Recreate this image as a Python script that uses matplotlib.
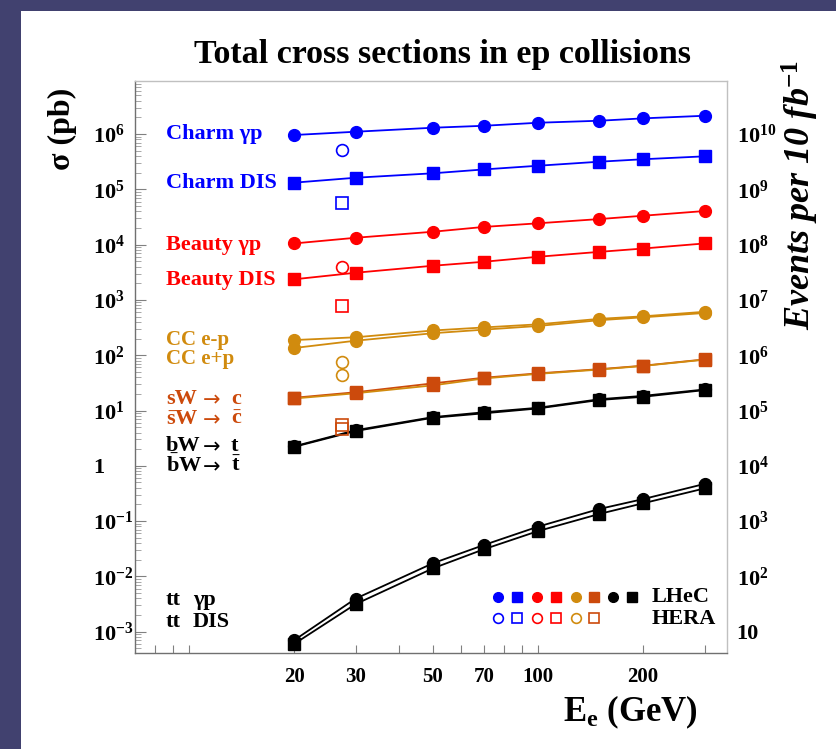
import numpy as np
import matplotlib
matplotlib.use("Agg")
import matplotlib.pyplot as plt
from matplotlib.patches import Rectangle
from matplotlib.ticker import FixedLocator, NullFormatter, LogLocator

plt.rcParams['font.family'] = ['Liberation Serif', 'DejaVu Serif']
plt.rcParams['font.weight'] = 'bold'
plt.rcParams['mathtext.fontset'] = 'custom'
plt.rcParams['mathtext.rm'] = 'Liberation Serif:bold'
plt.rcParams['mathtext.bf'] = 'Liberation Serif:bold'
plt.rcParams['mathtext.it'] = 'Liberation Serif:italic:bold'

# --- electron beam energies (GeV) ---
E = [20, 30, 50, 70, 100, 150, 200, 300]
E_hera = 27.5

# --- LHeC cross sections (pb) ---
charm_gp = [9.6e5, 1.1e6, 1.3e6, 1.41e6, 1.6e6, 1.74e6, 1.92e6, 2.14e6]
charm_dis = [1.32e5, 1.62e5, 1.95e5, 2.29e5, 2.67e5, 3.16e5, 3.5e5, 3.95e5]
beauty_gp = [1.05e4, 1.33e4, 1.71e4, 2.09e4, 2.43e4, 2.9e4, 3.33e4, 4.05e4]
beauty_dis = [2.36e3, 3.1e3, 4.15e3, 4.9e3, 6.03e3, 7.4e3, 8.5e3, 1.05e4]
cc_em = [188, 211, 280, 318, 362, 455, 505, 610]
cc_ep = [135, 183, 250, 290, 338, 430, 485, 580]
sw_c = [17, 21.4, 31, 39.2, 47, 56, 64.6, 84]
sbarw_cbar = [16.5, 20.5, 28.5, 38, 46, 55, 64, 83]
bw_t = [2.2, 4.26, 7.4, 8.9, 10.9, 15.5, 17.7, 23.4]
bbarw_tbar = [2.25, 4.4, 7.6, 9.3, 11.2, 16.0, 18.4, 24.0]
tt_gp = [7.0e-4, 3.96e-3, 0.0173, 0.037, 0.0794, 0.166, 0.25, 0.47]
tt_dis = [6.0e-4, 3.15e-3, 0.014, 0.031, 0.066, 0.135, 0.21, 0.39]

# --- HERA points (pb) ---
hera_charm_gp = 5.1e5
hera_charm_dis = 5.7e4
hera_beauty_gp = 4.0e3
hera_beauty_dis = 790
hera_cc = [74.5, 44]
hera_sw = [5.5, 4.6]

x_ticks = [20, 30, 50, 70, 100, 200]
x_minor = [8, 9, 10, 40, 60, 80, 90, 300]
left_ticks = [1e6, 1e5, 1e4, 1e3, 1e2, 1e1, 1, 1e-1, 1e-2, 1e-3]
left_labels = [r'$10^{6}$', r'$10^{5}$', r'$10^{4}$', r'$10^{3}$', r'$10^{2}$',
               r'$10^{1}$', '1', r'$10^{-1}$', r'$10^{-2}$', r'$10^{-3}$']
right_ticks = [1e10, 1e9, 1e8, 1e7, 1e6, 1e5, 1e4, 1e3, 1e2, 1e1]
right_labels = [r'$10^{10}$', r'$10^{9}$', r'$10^{8}$', r'$10^{7}$', r'$10^{6}$',
                r'$10^{5}$', r'$10^{4}$', r'$10^{3}$', r'$10^{2}$', '10']
lumi_factor = 1e4  # 10 fb^-1 = 1e4 pb^-1

BLUE = '#0000ff'
RED = '#ff0000'
GOLD = '#d18b0e'
ORANGE = '#cc4a0c'
BLACK = '#000000'

W, H = 836, 749
fig = plt.figure(figsize=(W / 100, H / 100), dpi=100, facecolor='#41416f')
fig.patches.append(Rectangle((21 / W, 0), 1, 1 - 11 / H, transform=fig.transFigure,
                             facecolor='white', edgecolor='none', zorder=-5))

x0, x1, y0, y1 = 135, 727, 81, 653
ax = fig.add_axes([x0 / W, 1 - y1 / H, (x1 - x0) / W, (y1 - y0) / H])
ax.set_zorder(2)
ax.patch.set_alpha(0)
ax.set_xscale('log')
ax.set_yscale('log')
ax.set_xlim(7.0, 348)
ylim = (4.12e-4, 9.1e6)
ax.set_ylim(*ylim)


def series(y, color, marker, lc=None):
    ax.plot(E, y, color=lc or color, lw=1.3, marker=marker, ms=8.5,
            mfc=color, mec=color, zorder=3)


def hera(y, color, marker):
    ax.plot([E_hera] * np.size(y), y, ls='none', marker=marker, ms=8.5,
            mfc='none', mec=color, mew=1.2, zorder=3)


series(charm_gp, BLUE, 'o')
series(charm_dis, BLUE, 's')
series(beauty_gp, RED, 'o')
series(beauty_dis, RED, 's')
series(cc_em, GOLD, 'o')
series(cc_ep, GOLD, 'o')
series(sw_c, ORANGE, 's')
series(sbarw_cbar, ORANGE, 's', lc=GOLD)
series(bw_t, BLACK, 's')
series(bbarw_tbar, BLACK, 'o')
series(tt_gp, BLACK, 'o')
series(tt_dis, BLACK, 's')

hera(hera_charm_gp, BLUE, 'o')
hera(hera_charm_dis, BLUE, 's')
hera(hera_beauty_gp, RED, 'o')
hera(hera_beauty_dis, RED, 's')
hera(hera_cc, GOLD, 'o')
hera(hera_sw, ORANGE, 's')

# axes styling
for s in ['top', 'right']:
    ax.spines[s].set_color('#c0c0c0')
for s in ['left', 'bottom']:
    ax.spines[s].set_color('#707070')
for s in ax.spines.values():
    s.set_linewidth(1.0)

ax.xaxis.set_major_locator(FixedLocator(x_ticks))
ax.xaxis.set_minor_locator(FixedLocator(x_minor))
ax.xaxis.set_minor_formatter(NullFormatter())
ax.set_xticklabels([str(v) for v in x_ticks])
ax.tick_params(axis='x', which='both', direction='in', length=6, width=0.8,
               colors='#808080', labelcolor='black', labelsize=15, pad=10,
               top=False)

ax.yaxis.set_major_locator(FixedLocator(left_ticks))
ax.yaxis.set_minor_locator(LogLocator(base=10, subs=np.arange(2, 10), numticks=30))
ax.yaxis.set_minor_formatter(NullFormatter())
ax.set_yticklabels(left_labels)
ax.tick_params(axis='y', which='major', direction='in', length=8, width=0.8,
               colors='#808080', labelcolor='black', labelsize=16, pad=30)
ax.tick_params(axis='y', which='minor', direction='in', length=4, width=0.6,
               colors='#999999')
for lab in ax.get_yticklabels():
    lab.set_horizontalalignment('left')

ax2 = ax.twinx()
ax2.set_zorder(1)
ax2.set_yscale('log')
ax2.set_ylim(ylim[0] * lumi_factor, ylim[1] * lumi_factor)
ax2.yaxis.set_major_locator(FixedLocator(right_ticks))
ax2.yaxis.set_minor_locator(FixedLocator([]))
ax2.set_yticklabels(right_labels)
ax2.tick_params(axis='y', length=0, labelsize=16, pad=7)
for s in ax2.spines.values():
    s.set_visible(False)


# in-plot labels (pixel positions converted to axes fraction)
def label(text, xpx, ypx, color, size=16, **kw):
    ax.text((xpx - x0) / (x1 - x0), (y1 - ypx) / (y1 - y0), text,
            transform=ax.transAxes, color=color, fontsize=size,
            ha='left', va='center', **kw)


def arrow_label(left, right, ypx, color):
    label(left, 166, ypx, color, fontweight='bold')
    label('→', 203, ypx + 1, color, size=15, family='DejaVu Sans', fontweight='normal')
    label(right, 231, ypx, color, fontweight='bold')


label('Charm γp', 166, 134, BLUE, fontweight='bold')
label('Charm DIS', 166, 183, BLUE, fontweight='bold')
label('Beauty γp', 166, 245, RED, fontweight='bold')
label('Beauty DIS', 166, 280, RED, fontweight='bold')
label('CC e-p', 166, 340, GOLD, size=15, fontweight='bold')
label('CC e+p', 166, 359, GOLD, size=15, fontweight='bold')
arrow_label('sW', 'c', 399, ORANGE)
arrow_label(r'$\bar{\mathrm{s}}$W', r'$\bar{\mathrm{c}}$', 419, ORANGE)
arrow_label('bW', 't', 446, BLACK)
arrow_label(r'$\bar{\mathrm{b}}$W', r'$\bar{\mathrm{t}}$', 466, BLACK)
label('tt', 166, 600, BLACK, fontweight='bold')
label('tt', 166, 622, BLACK, fontweight='bold')
label('γp', 193, 600, BLACK, fontweight='bold')
label('DIS', 193, 622, BLACK, fontweight='bold')

# marker key
key_x = [498, 517, 537, 556, 576, 594, 613, 632]
key_c = [BLUE, BLUE, RED, RED, GOLD, ORANGE, BLACK, BLACK]
key_m = ['o', 's', 'o', 's', 'o', 's', 'o', 's']
for i, (kx, kc, km) in enumerate(zip(key_x, key_c, key_m)):
    fx = (kx - x0) / (x1 - x0)
    ax.plot([fx], [(y1 - 597) / (y1 - y0)], marker=km, ms=7, mfc=kc, mec=kc,
            transform=ax.transAxes, clip_on=False)
    if i < 6:
        ax.plot([fx], [(y1 - 618) / (y1 - y0)], marker=km, ms=7, mfc='none', mec=kc,
                mew=1.2, transform=ax.transAxes, clip_on=False)
label('LHeC', 652, 597, BLACK, fontweight='bold')
label('HERA', 652, 619, BLACK, fontweight='bold')

# titles
fig.text(442 / W, 1 - 55 / H, 'Total cross sections in ep collisions', fontsize=24.5,
         fontweight='bold', ha='center', va='center')
fig.text(62 / W, 1 - 129 / H, 'σ (pb)', fontsize=23, fontweight='bold', rotation=90,
         ha='center', va='center')
fig.text(630 / W, 1 - 712 / H, r'E$_{\mathrm{e}}$ (GeV)', fontsize=25, fontweight='bold',
         ha='center', va='center')
fig.text(800 / W, 1 - 195 / H, r'Events per 10 fb$^{\mathit{-1}}$', fontsize=26,
         fontweight='bold', fontstyle='italic', rotation=90, ha='center', va='center')

fig.savefig('out.png', dpi=100, facecolor=fig.get_facecolor())
